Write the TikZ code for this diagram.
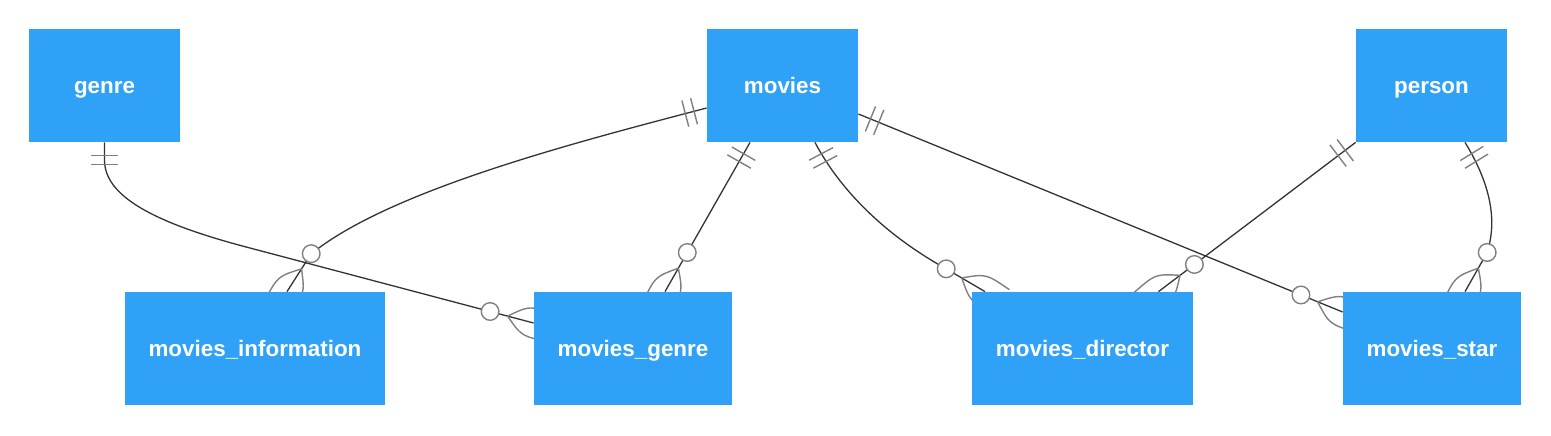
\documentclass[tikz,border=0pt]{standalone}
\usepackage{fontspec}
\newfontfamily\libsans{Liberation Sans}
\usetikzlibrary{calc,backgrounds}
\definecolor{boxblue}{RGB}{47,162,247}
\definecolor{edgecol}{RGB}{51,51,51}
\definecolor{markcol}{RGB}{128,128,128}
\newcommand\entfont{\libsans\bfseries\fontsize{11.2pt}{13pt}\selectfont}
% two bars (mandatory one) at start #1, pointing toward #2
\newcommand\mandone[2]{%
  \coordinate (moA) at ($(#1)!6.5pt!(#2)$);
  \coordinate (moB) at ($(#1)!11pt!(#2)$);
  \draw[mk] ($(moA)!6.75pt!90:(#2)$) -- ($(moA)!6.75pt!-90:(#2)$);
  \draw[mk] ($(moB)!6.75pt!90:(#2)$) -- ($(moB)!6.75pt!-90:(#2)$);
}
% circle and crow's foot (zero to many) at end #1, line coming from #2
\newcommand\zeromany[2]{%
  \coordinate (zmA) at ($(#1)!13.5pt!(#2)$);
  \coordinate (zmK) at ($(#1)!4pt!(#2)$);
  \coordinate (zmT) at ($(#1)!-10pt!(#2)$);
  \coordinate (zmC) at ($(#1)!22.5pt!(#2)$);
  \draw[mk] (zmA) .. controls ($(zmK)!8pt!90:(#2)$) .. ($(zmT)!7pt!90:(#2)$);
  \draw[mk] (zmA) .. controls ($(zmK)!8pt!-90:(#2)$) .. ($(zmT)!7pt!-90:(#2)$);
  \draw[mk, fill=white] (zmC) circle[radius=4.4pt];
}
\begin{document}
\begin{tikzpicture}[x=0.5pt,y=-0.5pt,
  entity/.style={rectangle, fill=boxblue, text=white, font=\entfont,
    minimum width=#1, minimum height=56.5pt, inner sep=0pt,
    text height=8.2pt, text depth=0pt},
  rel/.style={draw=edgecol, line width=0.65pt},
  mk/.style={draw=markcol, line width=0.7pt}]
\useasboundingbox (0,0) rectangle (1551,435);
\node[entity=75.5pt] (genre) at (104.5,85.5) {genre};
\node[entity=75.5pt] (movies) at (782.5,85.5) {movies};
\node[entity=75.5pt] (person) at (1431.5,85.5) {person};
\node[entity=130pt] (mi) at (255,348.5) {movies\_information};
\node[entity=99pt] (mg) at (633,348.5) {movies\_genre};
\node[entity=110.5pt] (md) at (1082.5,348.5) {movies\_director};
\node[entity=89pt] (ms) at (1432,348.5) {movies\_star};

\begin{pgfonlayer}{background}
\fill[white] (0,0) rectangle (1551,435);
% genre -> movies_genre
\coordinate (a1) at (genre.south);
\coordinate (b1) at ($(mg.west)+(0,-25.5)$);
\draw[rel] (a1) -- (104.5,160) .. controls (104.5,195) and (150,222) .. (250,248) -- (b1);
\mandone{a1}{104.5,160}
\zeromany{b1}{250,248}
% movies -> movies_information
\coordinate (a2) at ($(movies.west)+(0,22.5)$);
\coordinate (b2) at ($(mi.north)+(32,0)$);
\draw[rel] (a2) .. controls (577,142) and (390,190) .. (311,254) -- (b2);
\mandone{a2}{577,142}
\zeromany{b2}{311,254}
% movies -> movies_genre
\coordinate (a3) at ($(movies.south)+(-32.5,0)$);
\coordinate (b3) at ($(mg.north)+(32,0)$);
\draw[rel] (a3) -- (b3);
\mandone{a3}{b3}
\zeromany{b3}{a3}
% movies -> movies_director
\coordinate (a4) at ($(movies.south)+(32.5,0)$);
\coordinate (b4) at ($(md.north)+(-97.5,0)$);
\draw[rel] (a4) .. controls (840,190) and (885,235) .. (946.5,269) -- (b4);
\mandone{a4}{840,190}
\zeromany{b4}{946.5,269}
% movies -> movies_star
\coordinate (a5) at ($(movies.east)+(0,28.5)$);
\coordinate (b5) at ($(ms.west)+(0,-36.5)$);
\draw[rel] (a5) -- (b5);
\mandone{a5}{b5}
\zeromany{b5}{a5}
% person -> movies_director
\coordinate (a6) at (person.south west);
\coordinate (b6) at ($(md.north)+(76,0)$);
\draw[rel] (a6) -- (b6);
\mandone{a6}{b6}
\zeromany{b6}{a6}
% person -> movies_star
\coordinate (a7) at ($(person.south)+(33.5,0)$);
\coordinate (b7) at ($(ms.north)+(33,0)$);
\draw[rel] (a7) .. controls (1485,175) and (1500,215) .. (1486.7,253.3) -- (b7);
\mandone{a7}{1485,175}
\zeromany{b7}{1486.7,253.3}
\end{pgfonlayer}
\end{tikzpicture}
\end{document}
